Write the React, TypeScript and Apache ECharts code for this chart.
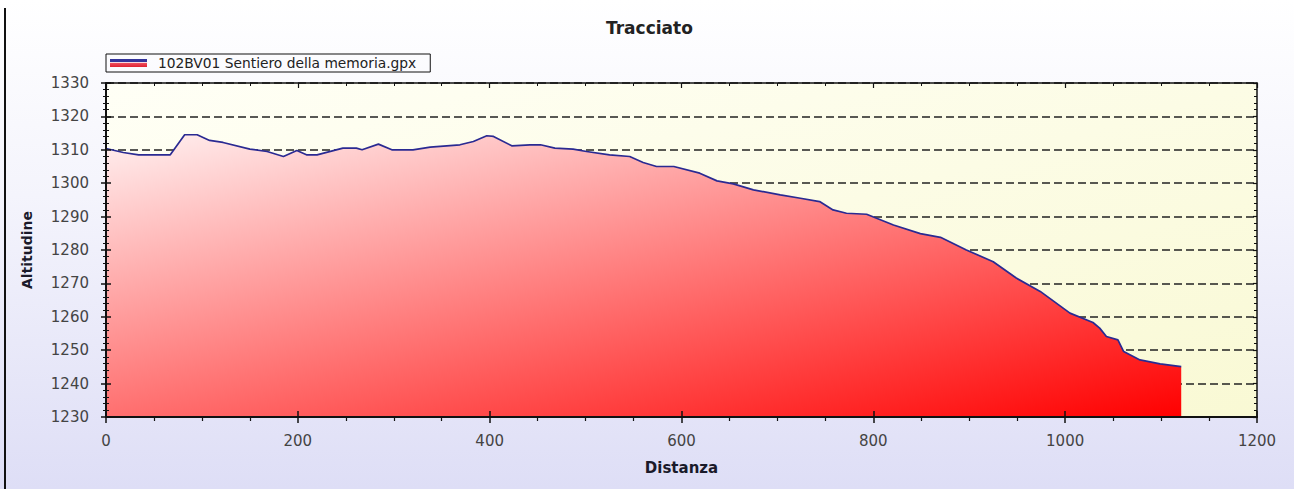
import React, { useEffect, useRef } from "react";
import * as echarts from "echarts";

const seriesName = "102BV01 Sentiero della memoria.gpx";
const chartTitle = "Tracciato";
const xName = "Distanza";
const yName = "Altitudine";

const distances = [
  0, 18, 34, 67, 82, 95, 108, 122, 150, 168, 185, 199, 209, 220, 247, 261, 267, 284, 298, 320,
  338, 369, 383, 397, 404, 423, 442, 453, 468, 487, 501, 525, 546, 560, 574, 592, 619, 637, 654,
  675, 703, 724, 744, 758, 772, 793, 821, 849, 870, 897, 925, 949, 974, 1005, 1029, 1036, 1043,
  1055, 1061, 1078, 1099, 1121,
];
const altitudes = [
  1310.4, 1309.2, 1308.5, 1308.5, 1314.5, 1314.5, 1312.8, 1312.2, 1310.2, 1309.5, 1308, 1309.8,
  1308.5, 1308.5, 1310.5, 1310.5, 1310, 1311.7, 1310, 1310, 1310.8, 1311.5, 1312.5, 1314.2, 1314,
  1311.2, 1311.5, 1311.5, 1310.5, 1310.2, 1309.5, 1308.5, 1308, 1306.2, 1305, 1305, 1303, 1300.7,
  1299.8, 1298, 1296.5, 1295.5, 1294.5, 1292, 1291, 1290.7, 1287.5, 1284.9, 1283.8, 1280, 1276.5,
  1271.6, 1267.6, 1261.1, 1258.3, 1256.6, 1254.1, 1253.1, 1249.6, 1247.1, 1245.9, 1245.1,
];

const xMin = 0;
const xMax = 1200;
const xInterval = 200;
const yMin = 1230;
const yMax = 1330;
const yInterval = 10;

const FONT = "DejaVu Sans";
const plain = (v: number) => String(v);

export default function App() {
  const ref = useRef<HTMLDivElement>(null);
  useEffect(() => {
    if (!ref.current) return;
    const chart = echarts.init(ref.current, undefined, { renderer: "svg" });
    const data = distances.map((d, i) => [d, altitudes[i]]);
    const baseX = { type: "value", min: xMin, max: xMax, interval: xInterval, gridIndex: 0 };
    const baseY = { type: "value", min: yMin, max: yMax, interval: yInterval, gridIndex: 0 };
    const blackLine = { show: true, lineStyle: { color: "#111", width: 2 } };
    const noLabel = { show: false };
    const noSplit = { show: false };
    chart.setOption({
      animation: false,
      backgroundColor: "transparent",
      title: {
        text: chartTitle,
        left: 606,
        top: 19,
        padding: 0,
        textStyle: { fontFamily: FONT, fontSize: 17, fontWeight: "bold", color: "#222" },
      },
      legend: {
        left: 106,
        top: 54,
        padding: [2, 14, 2, 4],
        borderColor: "#111",
        borderWidth: 1,
        itemWidth: 37,
        itemHeight: 8,
        textStyle: { fontFamily: FONT, fontSize: 13.8, color: "#222", padding: [0, 0, 0, 6] },
        data: [
          {
            name: seriesName,
            icon: "rect",
            itemStyle: {
              color: new echarts.graphic.LinearGradient(0, 0, 0, 1, [
                { offset: 0, color: "#33339a" },
                { offset: 0.32, color: "#33339a" },
                { offset: 0.32, color: "#f4d8e0" },
                { offset: 0.44, color: "#f4d8e0" },
                { offset: 0.44, color: "#ee5566" },
                { offset: 1, color: "#e02030" },
              ]),
            },
          },
        ],
      },
      grid: {
        left: 106,
        right: 37,
        top: 83,
        bottom: 72,
        show: true,
        borderWidth: 0,
        backgroundColor: new echarts.graphic.LinearGradient(0, 0, 1, 1, [
          { offset: 0, color: "#fffff6" },
          { offset: 1, color: "#f9f9d4" },
        ]),
      },
      xAxis: [
        {
          ...baseX,
          position: "bottom",
          z: 3,
          name: xName,
          nameLocation: "middle",
          nameGap: 43,
          nameTextStyle: { fontFamily: FONT, fontSize: 15, fontWeight: "bold", color: "#1a1a2a" },
          axisLine: blackLine,
          axisTick: { show: true, inside: false, length: 6, lineStyle: { color: "#111", width: 1.5 } },
          minorTick: { show: true, splitNumber: 4, length: 4, lineStyle: { color: "#111", width: 1.2 } },
          axisLabel: { fontFamily: FONT, fontSize: 15, color: "#444", margin: 16, formatter: plain },
          splitLine: noSplit,
        },
        {
          ...baseX,
          position: "bottom",
          z: 3,
          axisLine: { show: false },
          axisTick: { show: true, inside: true, length: 6, lineStyle: { color: "#111", width: 1.5 } },
          axisLabel: noLabel,
          splitLine: noSplit,
        },
        {
          ...baseX,
          position: "top",
          z: 3,
          axisLine: { show: true, lineStyle: { color: "#111", width: 1.5 } },
          axisTick: { show: true, inside: true, length: 5, lineStyle: { color: "#111", width: 1.2 } },
          minorTick: { show: true, splitNumber: 4, length: 3, lineStyle: { color: "#111", width: 1 } },
          axisLabel: noLabel,
          splitLine: noSplit,
        },
      ],
      yAxis: [
        {
          ...baseY,
          position: "left",
          z: 0,
          name: yName,
          nameLocation: "middle",
          nameRotate: 90,
          nameGap: 72,
          nameTextStyle: { fontFamily: FONT, fontSize: 14, fontWeight: "bold", color: "#1a1a2a" },
          axisLine: { show: false },
          axisTick: { show: false },
          axisLabel: { fontFamily: FONT, fontSize: 15, color: "#444", margin: 17, formatter: plain },
          splitLine: { show: true, lineStyle: { color: "#222", width: 1.5, type: [8, 4] } },
        },
        {
          ...baseY,
          position: "left",
          z: 3,
          axisLine: blackLine,
          axisTick: { show: true, inside: false, length: 5, lineStyle: { color: "#111", width: 1.5 } },
          minorTick: { show: true, splitNumber: 5, length: 3, lineStyle: { color: "#111", width: 1 } },
          axisLabel: noLabel,
          splitLine: noSplit,
        },
        {
          ...baseY,
          position: "left",
          z: 3,
          axisLine: { show: false },
          axisTick: { show: true, inside: true, length: 5, lineStyle: { color: "#111", width: 1.5 } },
          minorTick: { show: true, splitNumber: 5, length: 3, lineStyle: { color: "#111", width: 1 } },
          axisLabel: noLabel,
          splitLine: noSplit,
        },
        {
          ...baseY,
          position: "right",
          z: 3,
          axisLine: { show: true, lineStyle: { color: "#111", width: 1.5 } },
          axisTick: { show: true, inside: true, length: 4, lineStyle: { color: "#111", width: 1.2 } },
          minorTick: { show: true, splitNumber: 5, length: 3, lineStyle: { color: "#111", width: 1 } },
          axisLabel: noLabel,
          splitLine: noSplit,
        },
      ],
      graphic: [
        {
          type: "rect",
          shape: { x: 4, y: 8, width: 2, height: 481 },
          style: { fill: "#111" },
          silent: true,
        },
      ],
      series: [
        {
          name: seriesName,
          type: "line",
          xAxisIndex: 0,
          yAxisIndex: 0,
          data,
          showSymbol: false,
          symbol: "none",
          z: 2,
          lineStyle: { color: "#2a2a92", width: 1.7 },
          areaStyle: {
            origin: "start",
            opacity: 1,
            color: {
              type: "linear",
              x: 104,
              y: 124,
              x2: 218,
              y2: 633,
              global: true,
              colorStops: [
                { offset: 0, color: "#fff6f6" },
                { offset: 1, color: "#ff0000" },
              ],
            },
          },
        },
      ],
    });
    return () => chart.dispose();
  }, []);
  return (
    <div
      ref={ref}
      style={{
        position: "absolute",
        left: 0,
        top: 0,
        width: 1294,
        height: 489,
        background: "linear-gradient(180deg, #ffffff 0%, #f4f4fc 40%, #dedef6 100%)",
      }}
    />
  );
}
